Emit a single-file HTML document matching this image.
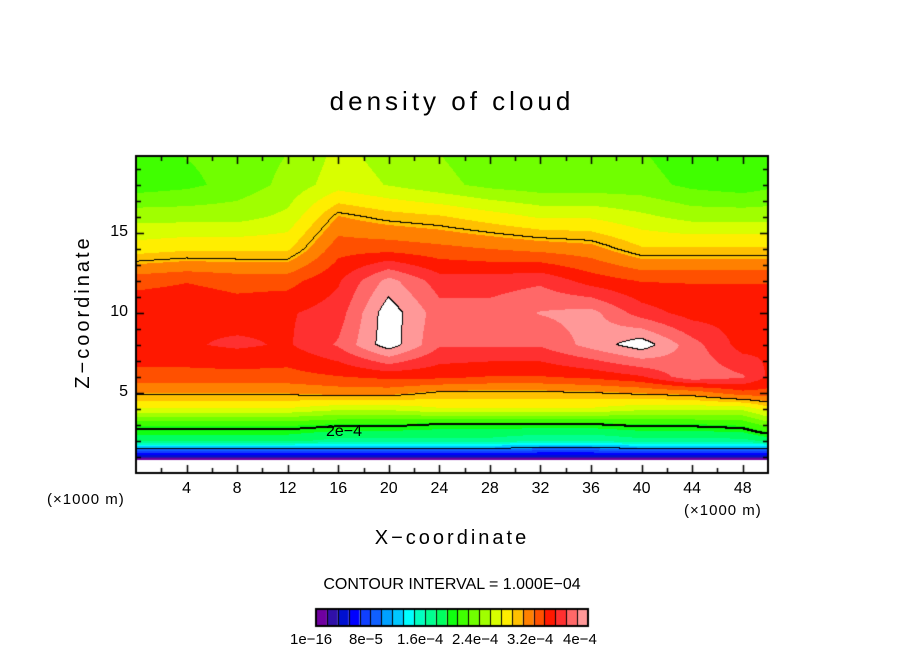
<!DOCTYPE html>
<html><head><meta charset="utf-8"><style>
body{margin:0;background:#fff;}
#wrap{position:relative;width:904px;height:654px;overflow:hidden;font-family:"Liberation Sans","DejaVu Sans",sans-serif;}
.t{position:absolute;white-space:nowrap;color:#000;}
</style></head><body>
<div id="wrap">
<div class="t" style="left:0;width:904px;text-align:center;top:86px;font-size:26px;letter-spacing:4px;">density of cloud</div>
<canvas id="cv" width="904" height="654" style="position:absolute;left:0;top:0"></canvas>
<div class="t" style="left:-4px;top:302px;width:180px;text-align:center;font-size:20px;letter-spacing:3px;transform:rotate(-90deg);transform-origin:88px 12px;">Z−coordinate</div>
<div class="t" style="left:0;width:904px;text-align:center;top:527px;font-size:20px;letter-spacing:3px;">X−coordinate</div>
<div class="t" style="left:47px;top:491px;font-size:15px;letter-spacing:1px;">(×1000 m)</div>
<div class="t" style="left:684px;top:502px;font-size:15px;letter-spacing:1px;">(×1000 m)</div>
<div class="t" style="left:0;width:904px;text-align:center;top:576px;font-size:16px;">CONTOUR INTERVAL = 1.000E−04</div>
<div class="t" style="left:326px;top:423px;font-size:16px;">2e−4</div>
<div id="labels"></div>
</div>
<script>
const xCols=[0,4,8,12,16,20,24,28,32,36,40,44,48,50];
const zRows=[0.5,1,1.5,2,3,4,5,6,8,10,12,14,16,18,20];
// values in units of 1e-5
const row_z05=[-5,-5,-5,-5,-5,-5,-5,-5,-5,-5,-5,-5,-5,-5];
const row_z1=[3,3,3,3,3,3,3,3,3,3,3,3,3,3];
const row_z15=[10,10,10,10,10,10,10,10,9,9,10,10,10,10];
const row_z2=[18,18,18,18,17,17,17,17,16,16,17,17,17,18];
const row_z3=[21,21,21,21,20.5,20.5,20,20,20,20,20.5,20.5,21,23];
const row_z4=[27,27,27,27,26,26,27,27,27,27,26,26,26,28];
const row_z5=[30.5,30.5,30.5,30.5,31,31,29.8,29.8,29.8,30,30.5,31,33,33];
const row_z6=[33,33,33,33,33.5,34,34,33.5,33.5,34,35,38,37,35];
const row_z8=[35,35,35.5,35,37,41,37,37,37,39,41,37.5,34.5,35];
const row_z10=[35,35,34.5,35,36,41,37.5,37.5,38.5,39,36,34.5,34.5,34.5];
const row_z12=[33,33.5,33,33,35,39,36,36,36.5,34.5,33.5,33.5,33.5,33.5];
const row_z14=[28,28.5,28.5,28.5,33,33,32.5,32,31.5,31,29,29,29,29];
const row_z16=[25,25,25,26,30.5,29.5,29,28,27,27,26,25,25,25];
const row_z18=[21.5,22,23,24.5,26.5,25.5,24.5,23.5,23,23,23,22,21.5,22];
const row_z20=[22,22.5,23,24,26,25,24,23,23,23,22.5,21.5,21.5,22];
const grid=[row_z05,row_z1,row_z15,row_z2,row_z3,row_z4,row_z5,row_z6,row_z8,row_z10,row_z12,row_z14,row_z16,row_z18,row_z20];
const colors=["#7000a0","#3010a8","#0010d0","#0000ff","#1040ff","#1060ff","#00a0ff","#00c8ff","#00ffff","#00ffc0","#00ff90","#00ff60","#10ff10","#40ff00","#70ff00","#a0ff00","#d8ff00","#ffee00","#ffc000","#ff8000","#ff5000","#ff1800","#ff3030","#ff6868","#ff9898"];
const levelStep=1.6;
const contourLevels=[10,20,30,40];
const xTickLabels=[4,8,12,16,20,24,28,32,36,40,44,48];
const yTickLabels=[5,10,15];
const cbarLabels=["1e−16","8e−5","1.6e−4","2.4e−4","3.2e−4","4e−4"];

const L=136,R=768,T=156,B=473,xMax=50,zMax=19.8;
const sx=x=>L+(x/xMax)*(R-L);
const sy=z=>B-(z/zMax)*(B-T);
function idx(arr,v){for(let i=0;i<arr.length-1;i++){if(v<=arr[i+1])return i;}return arr.length-2;}
function field(x,z){
  if(z<zRows[0])z=zRows[0];
  const i=idx(xCols,x),j=idx(zRows,z);
  const tx=Math.max(0,Math.min(1,(x-xCols[i])/(xCols[i+1]-xCols[i])));
  const tz=Math.max(0,Math.min(1,(z-zRows[j])/(zRows[j+1]-zRows[j])));
  const a=grid[j][i],b=grid[j][i+1],c=grid[j+1][i],d=grid[j+1][i+1];
  return (a*(1-tx)+b*tx)*(1-tz)+(c*(1-tx)+d*tx)*tz;
}
function hex(h){return [parseInt(h.substr(1,2),16),parseInt(h.substr(3,2),16),parseInt(h.substr(5,2),16)];}
const rgb=colors.map(hex);
const cv=document.getElementById('cv');const ctx=cv.getContext('2d');
const W=R-L,H=B-T;
const vals=new Float32Array(W*H);
for(let py=0;py<H;py++)for(let px=0;px<W;px++){
  const x=(px+0.5)/W*xMax,z=(H-py-0.5)/H*zMax;
  vals[py*W+px]=field(x,z);
}
const img=ctx.createImageData(W,H);
function lvl(v){return Math.floor(v/levelStep);}
for(let py=0;py<H;py++)for(let px=0;px<W;px++){
  const v=vals[py*W+px];let c=[255,255,255];
  const k=lvl(v);
  if(v>0&&k<colors.length)c=rgb[k];
  for(const cl of contourLevels){
    const r=(cl===20)?2:1;
    let cross=false;
    for(let d=1;d<=r&&!cross;d++){
      if(px+d<W){const w=vals[py*W+px+d];if((v-cl)*(w-cl)<0)cross=true;}
      if(py+d<H){const w=vals[(py+d)*W+px];if((v-cl)*(w-cl)<0)cross=true;}
    }
    if(cross){c=[0,0,0];}
  }
  const o=(py*W+px)*4;img.data[o]=c[0];img.data[o+1]=c[1];img.data[o+2]=c[2];img.data[o+3]=255;
}
ctx.putImageData(img,L,T);
ctx.strokeStyle='#000';ctx.lineWidth=2;ctx.strokeRect(L,T,W,H);
ctx.lineWidth=1.5;ctx.beginPath();
for(let x=2;x<xMax;x+=2){const len=(x%4===0)?8:5;const X=Math.round(sx(x))+0.5;ctx.moveTo(X,B);ctx.lineTo(X,B-len);ctx.moveTo(X,T);ctx.lineTo(X,T+len);}
for(let z=1;z<zMax;z+=1){const len=(z%5===0)?8:5;const Y=Math.round(sy(z))+0.5;ctx.moveTo(L,Y);ctx.lineTo(L+len,Y);ctx.moveTo(R,Y);ctx.lineTo(R-len,Y);}
ctx.stroke();
const lab=document.getElementById('labels');
xTickLabels.forEach(v=>{const d=document.createElement('div');d.className='t';


d.style.cssText='left:'+(sx(v)-20)+'px;width:40px;text-align:center;top:480px;font-size:16px;';d.textContent=v;lab.appendChild(d);});
yTickLabels.forEach(v=>{const d=document.createElement('div');d.className='t';


d.style.cssText='left:90px;width:38px;text-align:right;top:'+(sy(v)-10)+'px;font-size:16px;';d.textContent=v;lab.appendChild(d);});
const cbL=316,cbT=609,cbW=272,cbH=17,bw=cbW/colors.length;
colors.forEach((c,i)=>{ctx.fillStyle=c;ctx.fillRect(cbL+i*bw,cbT,bw,cbH);});
ctx.strokeStyle='#000';ctx.lineWidth=2;ctx.strokeRect(cbL,cbT,cbW,cbH);
ctx.lineWidth=1;ctx.beginPath();for(let i=1;i<colors.length;i++){const X=Math.round(cbL+i*bw)+0.5;ctx.moveTo(X,cbT);ctx.lineTo(X,cbT+cbH);}ctx.stroke();
const cbStarts=[290,349,397,452,507,563];
cbarLabels.forEach((t,i)=>{const d=document.createElement('div');d.className='t';


d.style.cssText='left:'+cbStarts[i]+'px;top:631px;font-size:15px;';d.textContent=t;lab.appendChild(d);});
</script>
</body></html>
